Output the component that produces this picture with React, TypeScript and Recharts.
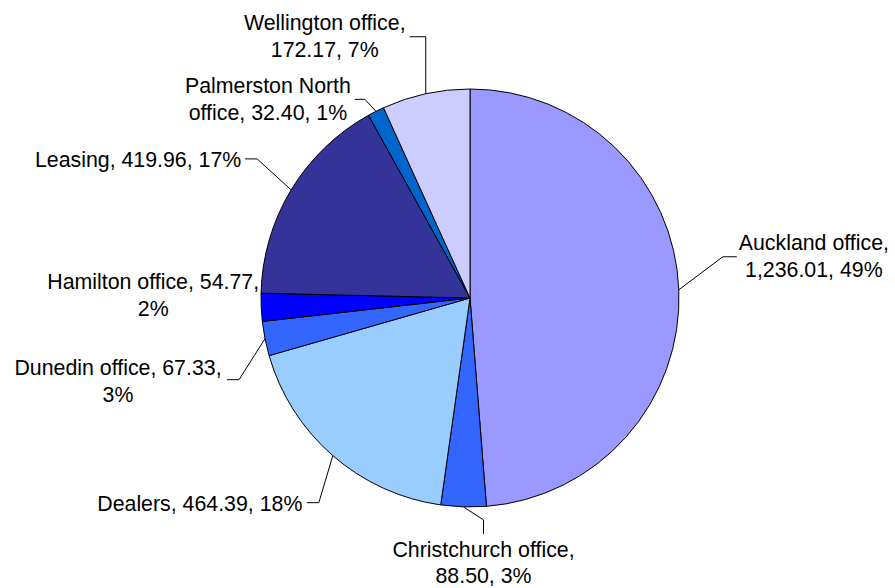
import { PieChart, Pie, Cell } from 'recharts'

const offices = ['Auckland office', 'Christchurch office', 'Dealers', 'Dunedin office', 'Hamilton office', 'Leasing', 'Palmerston North office', 'Wellington office']
const amounts = [1236.01, 88.5, 464.39, 67.33, 54.77, 419.96, 32.4, 172.17]
const colors = ['#9999FF', '#3366FF', '#99CCFF', '#3366FF', '#0000FF', '#333399', '#0066CC', '#CCCCFF']

const data = offices.map((name, i) => ({ name, value: amounts[i] }))

// label layout, offsets relative to the point where the leader meets the rim
// elbow: bend of the leader, tail: short straight end, text: centre of first line, wrap: words on line 1
const labelLayout: Record<string, { elbow?: [number, number]; tail?: [number, number]; text: [number, number]; wrap: number; lineH?: number }> = {
  'Auckland office': { elbow: [44, -33], tail: [14, 0], text: [135, -47], wrap: 2 },
  'Christchurch office': { elbow: [20, 13], tail: [0, 14], text: [20, 42], wrap: 2, lineH: 26 },
  Dealers: { elbow: [-14, 47], tail: [-12, 0], text: [-133, 48], wrap: 99 },
  'Dunedin office': { elbow: [-26, 41], tail: [-12, 0], text: [-147, 29], wrap: 3 },
  'Hamilton office': { text: [-108, -26], wrap: 3 },
  Leasing: { elbow: [-34, -31], tail: [-12, 0], text: [-153, -31], wrap: 99 },
  'Palmerston North office': { elbow: [-11, -12], tail: [-10, 0], text: [-108, -26], wrap: 2 },
  'Wellington office': { elbow: [0, -57], tail: [-16, 0], text: [-101, -71], wrap: 2 },
}

const RAD = Math.PI / 180
const FONT = 21.33
const LINE_H = 27

function renderLabel(props: any) {
  const { cx, cy, midAngle, outerRadius, name, value, percent } = props
  const px = cx + outerRadius * Math.cos(-midAngle * RAD)
  const py = cy + outerRadius * Math.sin(-midAngle * RAD)
  const lay = labelLayout[name]
  const full = `${name}, ${value.toLocaleString('en-US', { minimumFractionDigits: 2, maximumFractionDigits: 2 })}, ${Math.round(percent * 100)}%`
  const words = full.split(' ')
  const lines = [words.slice(0, lay.wrap).join(' '), words.slice(lay.wrap).join(' ')].filter(s => s.length > 0)
  const tx = px + lay.text[0]
  const ty = py + lay.text[1]
  const lh = lay.lineH ?? LINE_H
  let leader = null
  if (lay.elbow && lay.tail) {
    const ex = px + lay.elbow[0]
    const ey = py + lay.elbow[1]
    leader = <polyline points={`${px},${py} ${ex},${ey} ${ex + lay.tail[0]},${ey + lay.tail[1]}`} fill="none" stroke="#000" strokeWidth={1} />
  }
  return (
    <g key={name}>
      {leader}
      <text x={tx} y={ty} textAnchor="middle" fontSize={FONT} fill="#000" fontFamily="'Liberation Sans', Arial, sans-serif">
        {lines.map((l, i) => (
          <tspan key={i} x={tx} y={ty + i * lh + FONT * 0.358}>{l}</tspan>
        ))}
      </text>
    </g>
  )
}

export default function App() {
  return (
    <div style={{ width: 895, height: 588, background: '#fff' }}>
      <style>{'body{margin:0}'}</style>
      <PieChart width={895} height={588} margin={{ top: 0, right: 0, bottom: 0, left: 0 }}>
        <Pie
          data={data}
          dataKey="value"
          nameKey="name"
          cx={470}
          cy={298}
          outerRadius={209}
          startAngle={90}
          endAngle={-270}
          stroke="#000"
          strokeWidth={1}
          label={renderLabel}
          labelLine={false}
          isAnimationActive={false}
        >
          {data.map((d, i) => <Cell key={d.name} fill={colors[i]} />)}
        </Pie>
      </PieChart>
    </div>
  )
}
